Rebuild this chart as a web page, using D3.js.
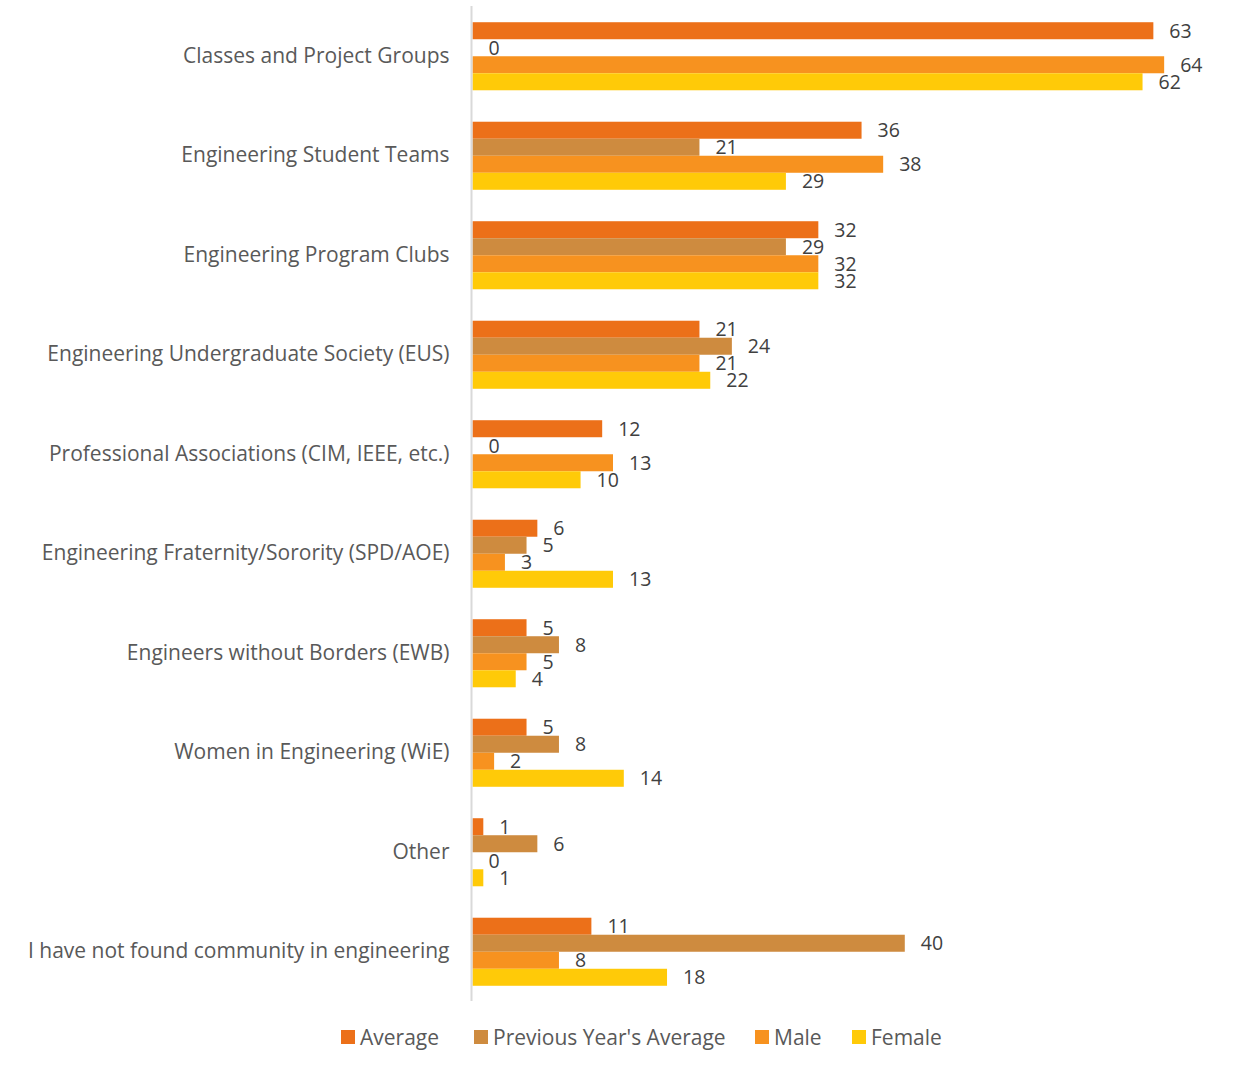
<!DOCTYPE html>
<html>
<head>
<meta charset="utf-8">
<script src="https://cdn.jsdelivr.net/npm/d3@7"></script>
<style>
  html, body { margin: 0; padding: 0; background: #ffffff; }
  svg { display: block; font-family: "Open Sans", "Noto Sans", sans-serif; }
</style>
</head>
<body>
<svg id="chart" width="1248" height="1068"></svg>
<script>
// Where engineering students find community (% of respondents)
const categories = [
  "Classes and Project Groups",
  "Engineering Student Teams",
  "Engineering Program Clubs",
  "Engineering Undergraduate Society (EUS)",
  "Professional Associations (CIM, IEEE, etc.)",
  "Engineering Fraternity/Sorority (SPD/AOE)",
  "Engineers without Borders (EWB)",
  "Women in Engineering (WiE)",
  "Other",
  "I have not found community in engineering"
];
const seriesNames = ["Average", "Previous Year's Average", "Male", "Female"];
const average      = [63, 36, 32, 21, 12, 6, 5, 5, 1, 11];
const previousYear = [0, 21, 29, 24, 0, 5, 8, 8, 6, 40];
const male         = [64, 38, 32, 21, 13, 3, 5, 2, 0, 8];
const female       = [62, 29, 32, 22, 10, 13, 4, 14, 1, 18];
const seriesColors = ["#EC7019", "#CE8B3F", "#F7921F", "#FFCA08"];

const seriesValues = [average, previousYear, male, female];
const rows = categories.map((c, i) => ({
  category: c,
  values: seriesNames.map((s, j) => ({ series: s, value: seriesValues[j][i], idx: j }))
}));

const svg = d3.select("#chart");

const y = d3.scaleBand()
  .domain(categories)
  .range([6.5, 1001.5])
  .paddingInner(0.316)
  .paddingOuter(0.158);

const ySub = d3.scaleBand()
  .domain(seriesNames)
  .range([0, y.bandwidth()]);

const x = d3.scaleLinear()
  .domain([0, 70])
  .range([472.5, 1229]);

// Category axis labels
const yAxis = d3.axisLeft(y).tickSize(0).tickPadding(23);
const yG = svg.append("g")
  .attr("transform", `translate(${x(0)},0)`)
  .call(yAxis);
yG.select(".domain").remove();
yG.selectAll("text")
  .attr("fill", "#595959")
  .style("font-size", "21px")
  .style("font-family", "'Open Sans', sans-serif");

// Bars
const groups = svg.append("g").selectAll("g")
  .data(rows)
  .join("g")
  .attr("transform", d => `translate(0,${y(d.category)})`);

groups.selectAll("rect")
  .data(d => d.values)
  .join("rect")
  .attr("x", x(0))
  .attr("y", d => ySub(d.series))
  .attr("width", d => x(d.value) - x(0))
  .attr("height", ySub.bandwidth())
  .attr("fill", d => seriesColors[d.idx]);

// Value labels
groups.selectAll("text.val")
  .data(d => d.values)
  .join("text")
  .attr("class", "val")
  .attr("x", d => x(d.value) + 16)
  .attr("y", d => ySub(d.series) + ySub.bandwidth() / 2)
  .attr("dy", "0.36em")
  .attr("fill", "#404040")
  .style("font-size", "19.5px")
  .text(d => d.value);

// Vertical axis line
svg.append("line")
  .attr("x1", x(0) - 1).attr("x2", x(0) - 1)
  .attr("y1", 6).attr("y2", 1001)
  .attr("stroke", "#D9D9D9")
  .attr("stroke-width", 2);

// Legend
const legendX = [341, 474, 755, 852];
const legend = svg.append("g").selectAll("g")
  .data(seriesNames)
  .join("g")
  .attr("transform", (d, i) => `translate(${legendX[i]},1030)`);
legend.append("rect")
  .attr("width", 14).attr("height", 14)
  .attr("fill", (d, i) => seriesColors[i]);
legend.append("text")
  .attr("x", 19).attr("y", 7)
  .attr("dy", "0.36em")
  .attr("fill", "#595959")
  .style("font-size", "21px")
  .text(d => d);
</script>
</body>
</html>
